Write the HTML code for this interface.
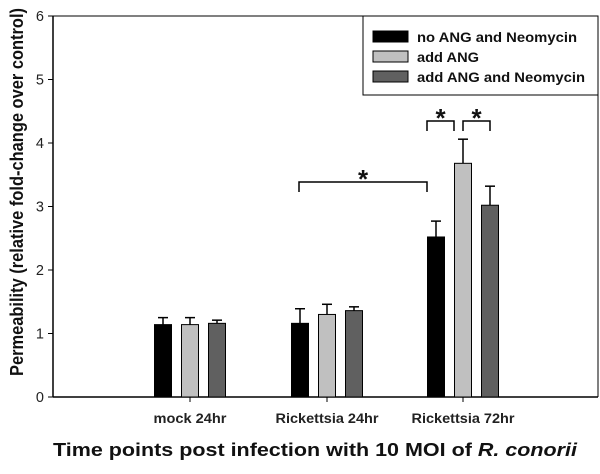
<!DOCTYPE html>
<html><head><style>
body{margin:0;background:#fff;}
text{font-family:"Liberation Sans",Arial,sans-serif;}
</style></head><body>
<svg width="600" height="469">
<g id="plot"></g>
</svg>
<script>
const categories=["mock 24hr","Rickettsia 24hr","Rickettsia 72hr"];
const seriesNames=["no ANG and Neomycin","add ANG","add ANG and Neomycin"];
const s1=[1.14,1.16,2.52];
const s2=[1.14,1.30,3.68];
const s3=[1.16,1.36,3.02];
const e1=[0.11,0.23,0.25];
const e2=[0.11,0.16,0.38];
const e3=[0.05,0.06,0.30];
const yTicks=[0,1,2,3,4,5,6];
const colors=["#000000","#c0c0c0","#606060"];
const NS="http://www.w3.org/2000/svg";
const g=document.getElementById('plot');
const X0=53,X1=598,Y0=397,Y1=16;
const y=v=>Y0-(v/6)*(Y0-Y1);
const centers=[190,327,463];
const labelW=[73,103,103];
const legendW=[160,62,168];
const bw=17,step=27;
function el(t,a,p){const e=document.createElementNS(NS,t);for(const k in a)e.setAttribute(k,a[k]);(p||g).appendChild(e);return e;}
let e;
e=el('line',{x1:X0,y1:Y0,x2:X1,y2:Y0,stroke:'#000','stroke-width':1.5});


e=el('line',{x1:X0,y1:Y1,x2:X0,y2:Y0,stroke:'#000','stroke-width':1.5});


e=el('line',{x1:X0,y1:Y1,x2:X1,y2:Y1,stroke:'#000','stroke-width':1});


e=el('line',{x1:X1,y1:Y1,x2:X1,y2:Y0,stroke:'#000','stroke-width':1});


yTicks.forEach(t=>{
 el('line',{x1:X0-5,y1:y(t),x2:X0,y2:y(t),stroke:'#000'});
 e=el('text',{x:44,y:y(t)+5,'text-anchor':'end','font-size':14.5,fill:'#222'});e.textContent=t;
 
 
});
const all=[s1,s2,s3],errs=[e1,e2,e3];
categories.forEach((c,i)=>{
 el('line',{x1:centers[i],y1:Y0,x2:centers[i],y2:Y0+5,stroke:'#000'});
 e=el('text',{x:centers[i]-labelW[i]/2,y:423,'font-size':13.5,'font-weight':'bold',fill:'#222',textLength:labelW[i],lengthAdjust:'spacingAndGlyphs'});e.textContent=c;
 
 
 all.forEach((s,j)=>{
  const bx=centers[i]+(j-1)*step-bw/2;
  el('line',{x1:bx+bw/2,y1:y(s[i]),x2:bx+bw/2,y2:y(s[i]+errs[j][i]),stroke:'#000','stroke-width':1.5});
  el('line',{x1:bx+bw/2-5,y1:y(s[i]+errs[j][i]),x2:bx+bw/2+5,y2:y(s[i]+errs[j][i]),stroke:'#000','stroke-width':1.5});
  e=el('rect',{x:bx,y:y(s[i]),width:bw,height:Y0-y(s[i]),fill:colors[j],stroke:'#000','stroke-width':1});
  
  
 });
});
function bracket(xa,xb,yy,name){
 e=el('path',{d:`M${xa} ${yy+10}V${yy}H${xb}V${yy+10}`,fill:'none',stroke:'#000','stroke-width':1.5});
 
 
 e=el('text',{x:(xa+xb)/2,y:yy+6,'text-anchor':'middle','font-size':26,'font-weight':'bold',fill:'#111'});e.textContent='*';
 
 
}
bracket(299,427,182,'bracket-24-72');
bracket(427,454,121,'bracket-black-gray');
bracket(463,490,121,'bracket-gray-dark');
e=el('rect',{x:363,y:16,width:235,height:79,fill:'#fff',stroke:'#000','stroke-width':1});


seriesNames.forEach((n,j)=>{
 const ly=31+j*20;
 e=el('rect',{x:373,y:ly,width:35,height:11,fill:colors[j],stroke:'#000'});
 
 
 e=el('text',{x:417,y:ly+11,'font-size':14,'font-weight':'bold',fill:'#111',textLength:legendW[j],lengthAdjust:'spacingAndGlyphs'});e.textContent=n;
 
 
});
e=el('text',{x:0,y:0,'text-anchor':'middle','font-size':18.5,'font-weight':'bold',fill:'#111',textLength:368,lengthAdjust:'spacingAndGlyphs',transform:'translate(23,192) rotate(-90)'});e.textContent='Permeability (relative fold-change over control)';


e=el('text',{x:53,y:456,'font-size':18,'font-weight':'bold',fill:'#111',textLength:524,lengthAdjust:'spacingAndGlyphs'});
e.innerHTML='Time points post infection with 10 MOI of <tspan font-style="italic">R. conorii</tspan>';


</script>
</body></html>
